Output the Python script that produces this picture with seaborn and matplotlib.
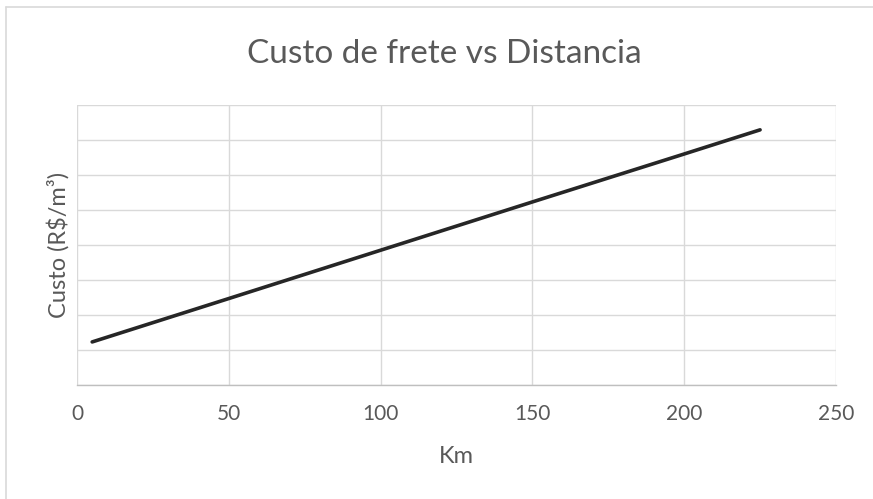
import matplotlib
matplotlib.use("Agg")
import matplotlib.pyplot as plt
import seaborn as sns
import pandas as pd

# valores (eixo y sem rotulos, unidade arbitraria)
km = [5, 50, 100, 150, 200, 225]
custo = [1.23, 2.47, 3.85, 5.23, 6.60, 7.29]
xticks = [0, 50, 100, 150, 200, 250]

df = pd.DataFrame({"Km": km, "Custo": custo})

sns.set_theme(style="white")
plt.rcParams['font.family'] = ['Lato', 'DejaVu Sans']

fig = plt.figure(figsize=(8.73, 4.99), dpi=100)
ax = fig.add_axes([0.0882, 0.2285, 0.8694, 0.5611])

sns.lineplot(data=df, x="Km", y="Custo", ax=ax, color="#262626", linewidth=2.6,
             solid_capstyle="round")

ax.set_xlim(0, 250)
ax.set_ylim(0, 8)
ax.set_xticks(xticks)
ax.set_yticks(range(0, 9))
ax.set_yticklabels([])
ax.grid(True, color="#d9d9d9", linewidth=1.0)
ax.tick_params(axis="both", length=0)
ax.tick_params(axis="x", labelsize=15, labelcolor="#595959", pad=14)
for s in ["top", "right", "left"]:
    ax.spines[s].set_visible(False)
ax.spines["bottom"].set_color("#bfbfbf")
ax.spines["bottom"].set_linewidth(1.0)

ax.set_xlabel("Km", fontsize=17, color="#595959")
ax.xaxis.label.set_va("center")
ax.xaxis.set_label_coords(0.5, -0.254)
ax.set_ylabel("Custo (R$/m³)", fontsize=17, color="#595959")
ax.yaxis.label.set_va("center")
ax.yaxis.set_label_coords(-0.025, 0.5)

fig.text(0.5086, 0.8737, "Custo de frete vs Distancia", ha="center", va="baseline",
         fontsize=24, color="#595959")

# moldura do grafico (apenas topo e esquerda visiveis)
fig.add_artist(plt.Line2D([0.007, 1.0], [0.986, 0.986], transform=fig.transFigure,
                          color="#d9d9d9", linewidth=1.2))
fig.add_artist(plt.Line2D([0.007, 0.007], [0.0, 0.986], transform=fig.transFigure,
                          color="#d9d9d9", linewidth=1.2))

fig.savefig("out.png", dpi=100)
